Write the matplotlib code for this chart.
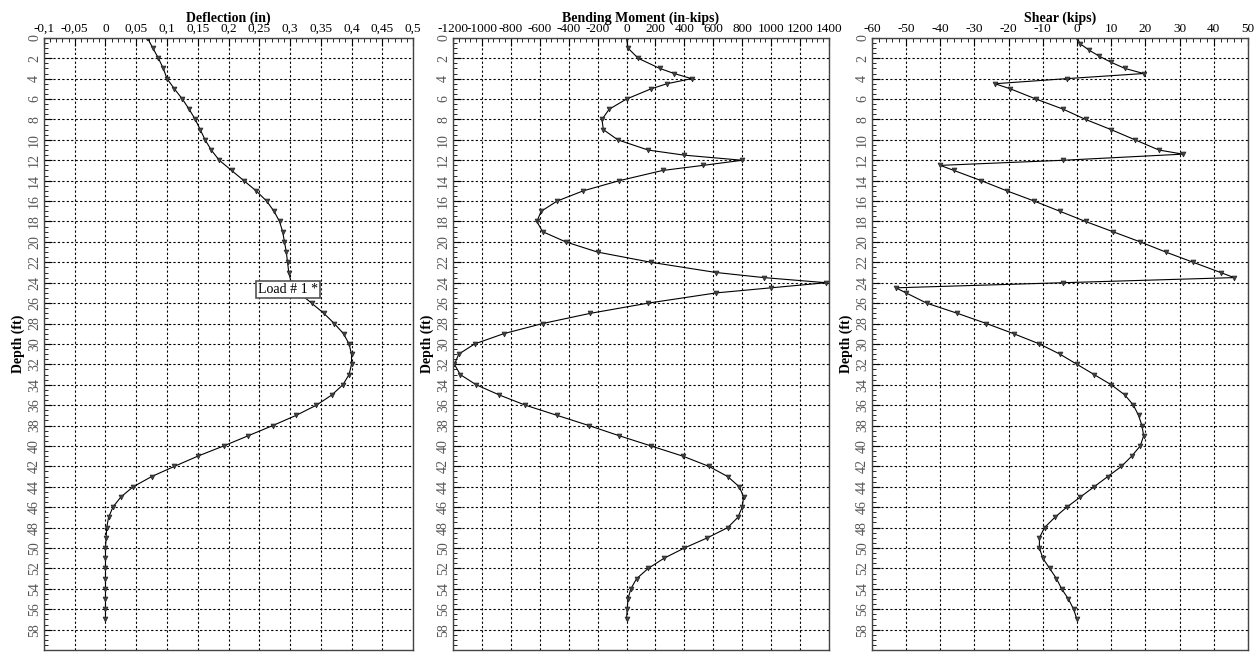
import numpy as np
import matplotlib.pyplot as plt
from matplotlib.ticker import MultipleLocator, FuncFormatter

plt.rcParams['font.family'] = ['Liberation Serif', 'DejaVu Serif']

# depth (ft) for deflection
depth = [0, 1, 2, 3, 4, 5, 6, 7, 8, 9, 10, 11, 12, 13, 14, 15, 16, 17, 18, 19,
         20, 21, 22, 23, 24, 25, 26, 27, 28, 29, 30, 31, 32, 33, 34, 35, 36, 37, 38, 39,
         40, 41, 42, 43, 44, 45, 46, 47, 48, 49, 50, 51, 52, 53, 54, 55, 56, 57]

deflection = [0.068, 0.077, 0.086, 0.094, 0.100, 0.112, 0.125, 0.136, 0.146, 0.154,
              0.162, 0.172, 0.185, 0.205, 0.225, 0.245, 0.262, 0.274, 0.283, 0.288,
              0.291, 0.294, 0.296, 0.298, 0.302, 0.315, 0.335, 0.355, 0.372, 0.387,
              0.396, 0.400, 0.400, 0.396, 0.386, 0.368, 0.343, 0.310, 0.272, 0.232,
              0.192, 0.150, 0.112, 0.075, 0.045, 0.025, 0.012, 0.005, 0.002, 0.001,
              0.000, 0.000, 0.000, 0.000, 0.000, 0.000, 0.000, 0.000]

# bending moment, with extra points around the peaks
moment_depth = [0, 1, 2, 3, 3.5, 4, 4.5, 5, 6, 7, 8, 9, 10, 11, 11.5, 12, 12.5, 13, 14, 15,
                16, 17, 18, 19, 20, 21, 22, 23, 23.5, 24, 24.5, 25, 26, 27, 28, 29, 30, 31,
                32, 33, 34, 35, 36, 37, 38, 39, 40, 41, 42, 43, 44, 45, 46, 47, 48, 49,
                50, 51, 52, 53, 54, 55, 56, 57]
moment = [0, 10, 80, 230, 330, 450, 280, 170, 0, -120, -170, -160, -60, 150, 400, 800,
          530, 250, -50, -300, -480, -590, -620, -580, -420, -200, 170, 620, 950, 1380,
          1000, 620, 150, -250, -580, -850, -1050, -1160, -1190, -1150, -1040, -880, -700,
          -480, -260, -50, 170, 390, 570, 700, 780, 810, 800, 770, 700, 560, 400, 260, 150,
          70, 30, 10, 5, 0]

# shear, with jumps at the supports
shear_depth = [0, 0.6, 1.2, 1.8, 2.4, 3.0, 3.5, 4.0, 4.5, 5.0, 6, 7, 8, 9, 10, 11, 11.4,
               12.0, 12.5, 13, 14, 15, 16, 17, 18, 19, 20, 21, 22, 23, 23.5, 24.0, 24.5,
               25, 26, 27, 28, 29, 30, 31, 32, 33, 34, 35, 36, 37, 38, 39, 40, 41, 42, 43,
               44, 45, 46, 47, 48, 49, 50, 51, 52, 53, 54, 55, 56, 57]
shear = [0, 1, 3.5, 6.5, 10, 14, 19.5, -3, -24, -19.5, -12, -4, 2.5, 10, 17, 24, 31,
         -4, -40, -36, -28, -20.5, -12.5, -5, 2.5, 10.5, 18.5, 26, 34, 42, 46, -4, -53,
         -50, -44, -35, -26.5, -18.5, -11, -5, 0, 5, 10, 14, 16.5, 18, 19, 19.5, 18.5,
         16, 13, 9, 5, 1, -3, -6.5, -9.5, -11, -11, -10, -8, -6, -4.5, -2.5, -1, 0]

panels = [
    (deflection, depth, 'Deflection (in)', -0.1, 0.5, 0.05, [0.0349, 0.2929]),
    (moment, moment_depth, 'Bending Moment (in-kips)', -1200, 1400, 200, [0.3595, 0.2984]),
    (shear, shear_depth, 'Shear (kips)', -60, 50, 10, [0.692, 0.2984]),
]

fig = plt.figure(figsize=(12.6, 6.52), dpi=100)

def comma_fmt(v, pos):
    s = f'{v:g}'
    return s.replace('.', ',')

axes = []
for xs, ys, title, lo, hi, step, (left, width) in panels:
    ax = fig.add_axes([left, 0.003, width, 0.939])
    ax.plot(xs, ys, color='black', lw=0.8, marker='v', ms=3.5,
            mfc='#444444', mec='#222222', mew=0.5)
    ax.set_xlim(lo, hi)
    ax.set_ylim(60, 0)
    ax.xaxis.tick_top()
    ax.xaxis.set_label_position('top')
    ax.xaxis.set_major_locator(MultipleLocator(step))
    ax.xaxis.set_minor_locator(MultipleLocator(step / 5))
    ax.xaxis.set_major_formatter(FuncFormatter(comma_fmt))
    ax.set_yticks(np.arange(0, 59, 2))
    ax.yaxis.set_minor_locator(MultipleLocator(0.5))
    ax.tick_params(axis='both', which='major', direction='in', length=6, width=0.8,
                   labelsize=10, pad=2)
    ax.tick_params(axis='x', which='major', labelsize=9.5)
    ax.tick_params(axis='both', which='minor', direction='in', length=3, width=0.6)
    ax.tick_params(axis='x', which='both', top=True, bottom=False)
    ax.tick_params(axis='y', which='both', left=True, right=False, labelcolor='#555555')
    for lab in ax.get_yticklabels():
        lab.set_rotation(90)
        lab.set_va('center')
    ax.set_xlabel(title, fontsize=10, fontweight='bold', labelpad=1)
    ax.set_ylabel('Depth (ft)', fontsize=10, fontweight='bold', labelpad=2)
    ax.grid(True, which='major', linestyle=(0, (2, 2)), color='black', lw=0.8)
    for sp in ax.spines.values():
        sp.set_color('#444444')
        sp.set_linewidth(1.0)
    axes.append(ax)

axes[0].text(0.297, 24.7, 'Load # 1 *', fontsize=10, ha='center', va='center',
             bbox=dict(boxstyle='square,pad=0.15', fc='white', ec='#555555', lw=1.2))

fig.savefig('out.png', dpi=100)
